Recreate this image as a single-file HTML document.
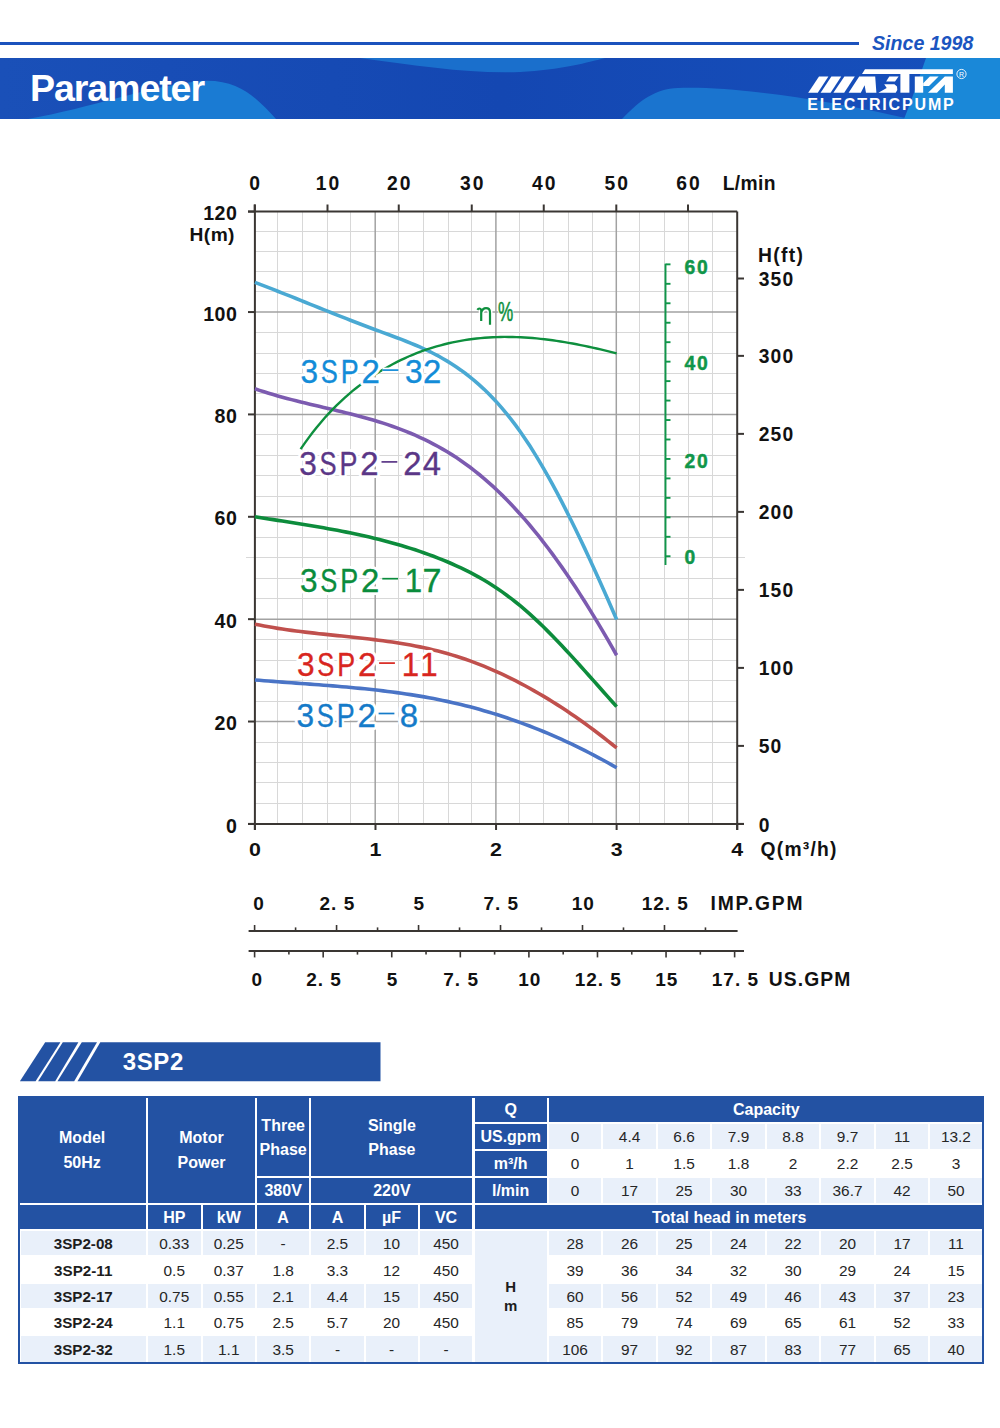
<!DOCTYPE html>
<html><head><meta charset="utf-8"><title>Parameter</title>
<style>
html,body{margin:0;padding:0;background:#fff;}
body{width:1000px;height:1428px;position:relative;overflow:hidden;font-family:'Liberation Sans', sans-serif;}
</style></head><body>

<div style="position:absolute;left:0;top:41.5px;width:859px;height:3.2px;background:#1b52bd"></div>
<div style="position:absolute;left:872px;top:31px;font:italic bold 19.6px/24px 'Liberation Sans', sans-serif;color:#1b55c0;white-space:nowrap">Since 1998</div>
<svg style="position:absolute;left:0;top:58px" width="1000" height="61" viewBox="0 58 1000 61">
 <defs>
  <linearGradient id="bg" x1="0" y1="0" x2="1" y2="0">
   <stop offset="0" stop-color="#1a50b8"/><stop offset="0.5" stop-color="#1447b2"/><stop offset="1" stop-color="#1650bc"/>
  </linearGradient>
 </defs>
 <rect x="0" y="58" width="1000" height="61" fill="url(#bg)"/>
 <path d="M360 58 C420 66 470 74 520 72 C560 70 590 62 605 58 Z" fill="#1a6fcc"/>
 <path d="M28 119 C90 108 150 86 200 81 C240 78 258 100 276 119 Z" fill="#1a7bd3"/>
 <path d="M622 119 C640 100 655 89 678 88 C730 86 820 98 910 119 Z" fill="#1a74cf"/>
 <path d="M926 58 L1000 58 L1000 119 L904 119 C912 100 918 80 926 58 Z" fill="#1a88d8"/>
</svg>
<div style="position:absolute;left:30px;top:63.8px;font:bold 37.6px/48px 'Liberation Sans', sans-serif;letter-spacing:-1.1px;color:#fff;white-space:nowrap">Parameter</div>

<svg style="position:absolute;left:0;top:0" width="1000" height="130" viewBox="0 0 1000 130">
 <g fill="#fff">
  <polygon points="808.2,92.7 817.8,92.7 828.4,76.5 819,76.5"/>
  <polygon points="820.6,92.7 830.6,92.7 841.2,76.5 831.4,76.5"/>
  <polygon points="833.4,92.7 844.2,92.7 854.8,76.5 844.4,76.5"/>
  <polygon points="848.6,92.7 860.8,92.7 864.6,85.2 866,92.7 876.4,92.7 875.2,76.5 859.2,76.5"/>
  <polygon points="865,69.3 952.9,69.3 952.9,73.9 862,73.9"/>
  <polygon points="889.3,76.5 898.6,76.5 895,81.6 886.1,81.6"/>
  <polygon points="884.2,84.2 894.4,84.2 897,86.4 897.3,89.9 895.7,92.7 878.4,92.7 886.7,88"/>
  <polygon points="900.4,73.9 909.4,73.9 909.4,92.7 900.4,92.7"/>
  <polygon points="914.8,76.5 923.2,76.5 923.2,92.7 914.8,92.7"/>
  <polygon points="929.8,76.5 938.6,76.5 929,86 923.2,86 923.2,83.2"/>
  <polygon points="928,92.7 937,92.7 944.8,84.5 944.8,92.7 952.9,92.7 952.9,76.5 944.8,76.5"/>
 </g>
 <circle cx="961.5" cy="74" r="4.6" fill="none" stroke="#fff" stroke-width="0.9"/>
 <text x="961.5" y="76.6" font-family="Liberation Sans" font-size="7" fill="#fff" text-anchor="middle">R</text>
 <text x="807.2" y="109.6" font-family="Liberation Sans" font-weight="bold" font-size="16" letter-spacing="1.85" fill="#fff">ELECTRICPUMP</text>
</svg>
<svg style="position:absolute;left:0;top:0" width="1000" height="1030" viewBox="0 0 1000 1030">
<g shape-rendering="crispEdges">
<line x1="277.5" y1="211.6" x2="277.5" y2="823.9" stroke="#d8d8d8" stroke-width="1"/>
<line x1="302.5" y1="211.6" x2="302.5" y2="823.9" stroke="#d8d8d8" stroke-width="1"/>
<line x1="327.5" y1="211.6" x2="327.5" y2="823.9" stroke="#d8d8d8" stroke-width="1"/>
<line x1="350.5" y1="211.6" x2="350.5" y2="823.9" stroke="#d8d8d8" stroke-width="1"/>
<line x1="398.75" y1="211.6" x2="398.75" y2="823.9" stroke="#d8d8d8" stroke-width="1"/>
<line x1="423.25" y1="211.6" x2="423.25" y2="823.9" stroke="#d8d8d8" stroke-width="1"/>
<line x1="448.25" y1="211.6" x2="448.25" y2="823.9" stroke="#d8d8d8" stroke-width="1"/>
<line x1="471.75" y1="211.6" x2="471.75" y2="823.9" stroke="#d8d8d8" stroke-width="1"/>
<line x1="519.5" y1="211.6" x2="519.5" y2="823.9" stroke="#d8d8d8" stroke-width="1"/>
<line x1="543.75" y1="211.6" x2="543.75" y2="823.9" stroke="#d8d8d8" stroke-width="1"/>
<line x1="568.25" y1="211.6" x2="568.25" y2="823.9" stroke="#d8d8d8" stroke-width="1"/>
<line x1="592" y1="211.6" x2="592" y2="823.9" stroke="#d8d8d8" stroke-width="1"/>
<line x1="639.5" y1="211.6" x2="639.5" y2="823.9" stroke="#d8d8d8" stroke-width="1"/>
<line x1="664.25" y1="211.6" x2="664.25" y2="823.9" stroke="#d8d8d8" stroke-width="1"/>
<line x1="688" y1="211.6" x2="688" y2="823.9" stroke="#d8d8d8" stroke-width="1"/>
<line x1="712.5" y1="211.6" x2="712.5" y2="823.9" stroke="#d8d8d8" stroke-width="1"/>
<line x1="254.9" y1="803.43" x2="737.2" y2="803.43" stroke="#d8d8d8" stroke-width="1"/>
<line x1="254.9" y1="782.95" x2="737.2" y2="782.95" stroke="#d8d8d8" stroke-width="1"/>
<line x1="254.9" y1="762.48" x2="737.2" y2="762.48" stroke="#d8d8d8" stroke-width="1"/>
<line x1="254.9" y1="742" x2="737.2" y2="742" stroke="#d8d8d8" stroke-width="1"/>
<line x1="254.9" y1="701.06" x2="737.2" y2="701.06" stroke="#d8d8d8" stroke-width="1"/>
<line x1="254.9" y1="680.58" x2="737.2" y2="680.58" stroke="#d8d8d8" stroke-width="1"/>
<line x1="254.9" y1="660.11" x2="737.2" y2="660.11" stroke="#d8d8d8" stroke-width="1"/>
<line x1="254.9" y1="639.63" x2="737.2" y2="639.63" stroke="#d8d8d8" stroke-width="1"/>
<line x1="254.9" y1="598.69" x2="737.2" y2="598.69" stroke="#d8d8d8" stroke-width="1"/>
<line x1="254.9" y1="578.21" x2="737.2" y2="578.21" stroke="#d8d8d8" stroke-width="1"/>
<line x1="246.3" y1="557.74" x2="745" y2="557.74" stroke="#d8d8d8" stroke-width="1"/>
<line x1="254.9" y1="537.26" x2="737.2" y2="537.26" stroke="#d8d8d8" stroke-width="1"/>
<line x1="254.9" y1="496.32" x2="737.2" y2="496.32" stroke="#d8d8d8" stroke-width="1"/>
<line x1="254.9" y1="475.84" x2="737.2" y2="475.84" stroke="#d8d8d8" stroke-width="1"/>
<line x1="254.9" y1="455.37" x2="737.2" y2="455.37" stroke="#d8d8d8" stroke-width="1"/>
<line x1="254.9" y1="434.89" x2="737.2" y2="434.89" stroke="#d8d8d8" stroke-width="1"/>
<line x1="254.9" y1="393.95" x2="737.2" y2="393.95" stroke="#d8d8d8" stroke-width="1"/>
<line x1="254.9" y1="373.47" x2="737.2" y2="373.47" stroke="#d8d8d8" stroke-width="1"/>
<line x1="254.9" y1="353" x2="737.2" y2="353" stroke="#d8d8d8" stroke-width="1"/>
<line x1="254.9" y1="332.52" x2="737.2" y2="332.52" stroke="#d8d8d8" stroke-width="1"/>
<line x1="254.9" y1="291.96" x2="737.2" y2="291.96" stroke="#d8d8d8" stroke-width="1"/>
<line x1="254.9" y1="271.87" x2="737.2" y2="271.87" stroke="#d8d8d8" stroke-width="1"/>
<line x1="254.9" y1="251.78" x2="737.2" y2="251.78" stroke="#d8d8d8" stroke-width="1"/>
<line x1="254.9" y1="231.69" x2="737.2" y2="231.69" stroke="#d8d8d8" stroke-width="1"/>
</g>
<line x1="375.2" y1="211.6" x2="375.2" y2="823.9" stroke="#a2a2a2" stroke-width="1.5"/>
<line x1="495.9" y1="211.6" x2="495.9" y2="823.9" stroke="#a2a2a2" stroke-width="1.5"/>
<line x1="616.3" y1="211.6" x2="616.3" y2="823.9" stroke="#a2a2a2" stroke-width="1.5"/>
<line x1="254.9" y1="721.53" x2="737.2" y2="721.53" stroke="#a2a2a2" stroke-width="1.5"/>
<line x1="254.9" y1="619.16" x2="737.2" y2="619.16" stroke="#a2a2a2" stroke-width="1.5"/>
<line x1="254.9" y1="516.79" x2="737.2" y2="516.79" stroke="#a2a2a2" stroke-width="1.5"/>
<line x1="254.9" y1="414.42" x2="737.2" y2="414.42" stroke="#a2a2a2" stroke-width="1.5"/>
<line x1="254.9" y1="312.05" x2="737.2" y2="312.05" stroke="#a2a2a2" stroke-width="1.5"/>
<g stroke="#3a3633" stroke-width="2" fill="none">
<line x1="254.9" y1="204.5" x2="254.9" y2="830"/>
<line x1="737.2" y1="211.6" x2="737.2" y2="830"/>
<line x1="248" y1="211.6" x2="737.2" y2="211.6"/>
<line x1="248" y1="823.9" x2="744" y2="823.9"/>
<line x1="248" y1="823.9" x2="254.9" y2="823.9"/>
<line x1="248" y1="721.53" x2="254.9" y2="721.53"/>
<line x1="248" y1="619.16" x2="254.9" y2="619.16"/>
<line x1="248" y1="516.79" x2="254.9" y2="516.79"/>
<line x1="248" y1="414.42" x2="254.9" y2="414.42"/>
<line x1="248" y1="312.05" x2="254.9" y2="312.05"/>
<line x1="248" y1="211.6" x2="254.9" y2="211.6"/>
<line x1="254.9" y1="823.9" x2="254.9" y2="830"/>
<line x1="375.48" y1="823.9" x2="375.48" y2="830"/>
<line x1="496.05" y1="823.9" x2="496.05" y2="830"/>
<line x1="616.62" y1="823.9" x2="616.62" y2="830"/>
<line x1="737.2" y1="823.9" x2="737.2" y2="830"/>
<line x1="254.7" y1="204.5" x2="254.7" y2="211.6"/>
<line x1="327.5" y1="204.5" x2="327.5" y2="211.6"/>
<line x1="398.75" y1="204.5" x2="398.75" y2="211.6"/>
<line x1="471.75" y1="204.5" x2="471.75" y2="211.6"/>
<line x1="543.75" y1="204.5" x2="543.75" y2="211.6"/>
<line x1="616.3" y1="204.5" x2="616.3" y2="211.6"/>
<line x1="688" y1="204.5" x2="688" y2="211.6"/>
<line x1="737.2" y1="823.9" x2="744" y2="823.9"/>
<line x1="737.2" y1="745.89" x2="744" y2="745.89"/>
<line x1="737.2" y1="667.89" x2="744" y2="667.89"/>
<line x1="737.2" y1="589.88" x2="744" y2="589.88"/>
<line x1="737.2" y1="511.88" x2="744" y2="511.88"/>
<line x1="737.2" y1="433.87" x2="744" y2="433.87"/>
<line x1="737.2" y1="355.86" x2="744" y2="355.86"/>
<line x1="737.2" y1="278.5" x2="744" y2="278.5"/>
</g>
<text x="237.4" y="832.5" font-family="Liberation Sans" font-weight="bold" fill="#111" font-size="19.6" letter-spacing="0.5" text-anchor="end">0</text>
<text x="237.4" y="730.13" font-family="Liberation Sans" font-weight="bold" fill="#111" font-size="19.6" letter-spacing="0.5" text-anchor="end">20</text>
<text x="237.4" y="627.76" font-family="Liberation Sans" font-weight="bold" fill="#111" font-size="19.6" letter-spacing="0.5" text-anchor="end">40</text>
<text x="237.4" y="525.39" font-family="Liberation Sans" font-weight="bold" fill="#111" font-size="19.6" letter-spacing="0.5" text-anchor="end">60</text>
<text x="237.4" y="423.02" font-family="Liberation Sans" font-weight="bold" fill="#111" font-size="19.6" letter-spacing="0.5" text-anchor="end">80</text>
<text x="237.4" y="320.65" font-family="Liberation Sans" font-weight="bold" fill="#111" font-size="19.6" letter-spacing="0.5" text-anchor="end">100</text>
<text x="237.4" y="220.2" font-family="Liberation Sans" font-weight="bold" fill="#111" font-size="19.6" letter-spacing="0.5" text-anchor="end">120</text>
<text x="189.6" y="240.6" font-family="Liberation Sans" font-weight="bold" fill="#111" font-size="19.2" letter-spacing="0.4">H(m)</text>
<text x="255.7" y="190.2" font-family="Liberation Sans" font-weight="bold" fill="#111" font-size="19.3" letter-spacing="2" text-anchor="middle">0</text>
<text x="328.5" y="190.2" font-family="Liberation Sans" font-weight="bold" fill="#111" font-size="19.3" letter-spacing="2" text-anchor="middle">10</text>
<text x="399.75" y="190.2" font-family="Liberation Sans" font-weight="bold" fill="#111" font-size="19.3" letter-spacing="2" text-anchor="middle">20</text>
<text x="472.75" y="190.2" font-family="Liberation Sans" font-weight="bold" fill="#111" font-size="19.3" letter-spacing="2" text-anchor="middle">30</text>
<text x="544.75" y="190.2" font-family="Liberation Sans" font-weight="bold" fill="#111" font-size="19.3" letter-spacing="2" text-anchor="middle">40</text>
<text x="617.3" y="190.2" font-family="Liberation Sans" font-weight="bold" fill="#111" font-size="19.3" letter-spacing="2" text-anchor="middle">50</text>
<text x="689" y="190.2" font-family="Liberation Sans" font-weight="bold" fill="#111" font-size="19.3" letter-spacing="2" text-anchor="middle">60</text>
<text x="722.8" y="190.2" font-family="Liberation Sans" font-weight="bold" fill="#111" font-size="19.3" letter-spacing="0.3">L/min</text>
<text transform="translate(254.9,856.1) scale(1.15,1)" font-family="Liberation Sans" font-weight="bold" fill="#111" font-size="18.6" text-anchor="middle">0</text>
<text transform="translate(375.48,856.1) scale(1.15,1)" font-family="Liberation Sans" font-weight="bold" fill="#111" font-size="18.6" text-anchor="middle">1</text>
<text transform="translate(496.05,856.1) scale(1.15,1)" font-family="Liberation Sans" font-weight="bold" fill="#111" font-size="18.6" text-anchor="middle">2</text>
<text transform="translate(616.62,856.1) scale(1.15,1)" font-family="Liberation Sans" font-weight="bold" fill="#111" font-size="18.6" text-anchor="middle">3</text>
<text transform="translate(737.2,856.1) scale(1.15,1)" font-family="Liberation Sans" font-weight="bold" fill="#111" font-size="18.6" text-anchor="middle">4</text>
<text x="760.6" y="856.1" font-family="Liberation Sans" font-weight="bold" fill="#111" font-size="19.3" letter-spacing="1.2">Q(m³/h)</text>
<text x="758.8" y="831.5" font-family="Liberation Sans" font-weight="bold" fill="#111" font-size="19.3" letter-spacing="1.1">0</text>
<text x="758.8" y="753.49" font-family="Liberation Sans" font-weight="bold" fill="#111" font-size="19.3" letter-spacing="1.1">50</text>
<text x="758.8" y="675.49" font-family="Liberation Sans" font-weight="bold" fill="#111" font-size="19.3" letter-spacing="1.1">100</text>
<text x="758.8" y="597.48" font-family="Liberation Sans" font-weight="bold" fill="#111" font-size="19.3" letter-spacing="1.1">150</text>
<text x="758.8" y="519.48" font-family="Liberation Sans" font-weight="bold" fill="#111" font-size="19.3" letter-spacing="1.1">200</text>
<text x="758.8" y="441.47" font-family="Liberation Sans" font-weight="bold" fill="#111" font-size="19.3" letter-spacing="1.1">250</text>
<text x="758.8" y="363.46" font-family="Liberation Sans" font-weight="bold" fill="#111" font-size="19.3" letter-spacing="1.1">300</text>
<text x="758.8" y="286.1" font-family="Liberation Sans" font-weight="bold" fill="#111" font-size="19.3" letter-spacing="1.1">350</text>
<text x="758" y="261.6" font-family="Liberation Sans" font-weight="bold" fill="#111" font-size="19.3" letter-spacing="1.3">H(ft)</text>
<g stroke="#10964a" stroke-width="1.9">
<line x1="665.5" y1="263.8" x2="665.5" y2="565"/>
<line x1="665.5" y1="556.25" x2="670.5" y2="556.25"/>
<line x1="665.5" y1="536.79" x2="670.5" y2="536.79"/>
<line x1="665.5" y1="517.33" x2="670.5" y2="517.33"/>
<line x1="665.5" y1="497.87" x2="670.5" y2="497.87"/>
<line x1="665.5" y1="478.41" x2="670.5" y2="478.41"/>
<line x1="665.5" y1="458.95" x2="670.5" y2="458.95"/>
<line x1="665.5" y1="439.49" x2="670.5" y2="439.49"/>
<line x1="665.5" y1="420.03" x2="670.5" y2="420.03"/>
<line x1="665.5" y1="400.57" x2="670.5" y2="400.57"/>
<line x1="665.5" y1="381.11" x2="670.5" y2="381.11"/>
<line x1="665.5" y1="361.65" x2="670.5" y2="361.65"/>
<line x1="665.5" y1="342.19" x2="670.5" y2="342.19"/>
<line x1="665.5" y1="322.73" x2="670.5" y2="322.73"/>
<line x1="665.5" y1="303.27" x2="670.5" y2="303.27"/>
<line x1="665.5" y1="283.81" x2="670.5" y2="283.81"/>
<line x1="665.5" y1="264.35" x2="670.5" y2="264.35"/>
</g>
<text x="684.6" y="563.5" font-family="Liberation Sans" font-weight="bold" fill="#10964a" stroke="#10964a" stroke-width="0.45" font-size="19.3" letter-spacing="1.7">0</text>
<text x="684.6" y="467.55" font-family="Liberation Sans" font-weight="bold" fill="#10964a" stroke="#10964a" stroke-width="0.45" font-size="19.3" letter-spacing="1.7">20</text>
<text x="684.6" y="370.15" font-family="Liberation Sans" font-weight="bold" fill="#10964a" stroke="#10964a" stroke-width="0.45" font-size="19.3" letter-spacing="1.7">40</text>
<text x="684.6" y="274.25" font-family="Liberation Sans" font-weight="bold" fill="#10964a" stroke="#10964a" stroke-width="0.45" font-size="19.3" letter-spacing="1.7">60</text>
<path d="M254.90,679.92 L259.48,680.30 L264.06,680.68 L268.64,681.04 L273.22,681.40 L277.79,681.75 L282.37,682.10 L286.95,682.44 L291.53,682.78 L296.11,683.12 L300.69,683.46 L305.27,683.79 L309.85,684.13 L314.42,684.48 L319.00,684.83 L323.58,685.18 L328.16,685.54 L332.74,685.91 L337.32,686.29 L341.90,686.67 L346.48,687.08 L351.05,687.49 L355.63,687.92 L360.21,688.36 L364.79,688.82 L369.37,689.30 L373.95,689.80 L378.53,690.32 L383.11,690.86 L387.69,691.42 L392.26,692.01 L396.84,692.62 L401.42,693.26 L406.00,693.92 L410.58,694.62 L415.16,695.35 L419.74,696.10 L424.32,696.89 L428.89,697.72 L433.47,698.58 L438.05,699.48 L442.63,700.41 L447.21,701.38 L451.79,702.40 L456.37,703.45 L460.95,704.55 L465.52,705.68 L470.10,706.86 L474.68,708.08 L479.26,709.34 L483.84,710.65 L488.42,711.99 L493.00,713.38 L497.58,714.82 L502.16,716.29 L506.73,717.81 L511.31,719.37 L515.89,720.98 L520.47,722.62 L525.05,724.32 L529.63,726.05 L534.21,727.84 L538.79,729.66 L543.36,731.53 L547.94,733.45 L552.52,735.41 L557.10,737.41 L561.68,739.46 L566.26,741.56 L570.84,743.70 L575.42,745.89 L579.99,748.13 L584.57,750.41 L589.15,752.74 L593.73,755.12 L598.31,757.54 L602.89,760.01 L607.47,762.52 L612.05,765.09 L616.62,767.70" fill="none" stroke="#4a74c6" stroke-width="3.6"/>
<path d="M254.90,624.18 L259.48,625.11 L264.06,625.98 L268.64,626.81 L273.22,627.60 L277.79,628.35 L282.37,629.05 L286.95,629.72 L291.53,630.36 L296.11,630.97 L300.69,631.55 L305.27,632.11 L309.85,632.65 L314.42,633.16 L319.00,633.67 L323.58,634.16 L328.16,634.64 L332.74,635.12 L337.32,635.59 L341.90,636.07 L346.48,636.54 L351.05,637.02 L355.63,637.51 L360.21,638.01 L364.79,638.52 L369.37,639.06 L373.95,639.61 L378.53,640.18 L383.11,640.78 L387.69,641.41 L392.26,642.07 L396.84,642.76 L401.42,643.50 L406.00,644.27 L410.58,645.09 L415.16,645.95 L419.74,646.86 L424.32,647.82 L428.89,648.84 L433.47,649.92 L438.05,651.06 L442.63,652.26 L447.21,653.53 L451.79,654.86 L456.37,656.27 L460.95,657.75 L465.52,659.30 L470.10,660.92 L474.68,662.61 L479.26,664.38 L483.84,666.20 L488.42,668.10 L493.00,670.07 L497.58,672.11 L502.16,674.21 L506.73,676.38 L511.31,678.62 L515.89,680.92 L520.47,683.30 L525.05,685.73 L529.63,688.24 L534.21,690.81 L538.79,693.44 L543.36,696.14 L547.94,698.91 L552.52,701.74 L557.10,704.63 L561.68,707.59 L566.26,710.61 L570.84,713.69 L575.42,716.84 L579.99,720.05 L584.57,723.32 L589.15,726.65 L593.73,730.05 L598.31,733.50 L602.89,737.02 L607.47,740.59 L612.05,744.23 L616.62,747.93" fill="none" stroke="#c0504d" stroke-width="3.6"/>
<path d="M254.90,516.75 L259.48,517.48 L264.06,518.21 L268.64,518.93 L273.22,519.65 L277.79,520.37 L282.37,521.09 L286.95,521.81 L291.53,522.53 L296.11,523.26 L300.69,523.99 L305.27,524.74 L309.85,525.50 L314.42,526.26 L319.00,527.05 L323.58,527.85 L328.16,528.66 L332.74,529.50 L337.32,530.35 L341.90,531.23 L346.48,532.14 L351.05,533.07 L355.63,534.03 L360.21,535.02 L364.79,536.04 L369.37,537.09 L373.95,538.18 L378.53,539.30 L383.11,540.47 L387.69,541.67 L392.26,542.91 L396.84,544.20 L401.42,545.54 L406.00,546.92 L410.58,548.35 L415.16,549.83 L419.74,551.37 L424.32,552.95 L428.89,554.60 L433.47,556.30 L438.05,558.06 L442.63,559.88 L447.21,561.77 L451.79,563.73 L456.37,565.77 L460.95,567.89 L465.52,570.11 L470.10,572.42 L474.68,574.85 L479.26,577.38 L483.84,580.03 L488.42,582.80 L493.00,585.69 L497.58,588.72 L502.16,591.88 L506.73,595.18 L511.31,598.62 L515.89,602.21 L520.47,605.95 L525.05,609.85 L529.63,613.89 L534.21,618.07 L538.79,622.38 L543.36,626.81 L547.94,631.35 L552.52,635.99 L557.10,640.72 L561.68,645.54 L566.26,650.44 L570.84,655.40 L575.42,660.41 L579.99,665.48 L584.57,670.58 L589.15,675.72 L593.73,680.88 L598.31,686.05 L602.89,691.22 L607.47,696.39 L612.05,701.54 L616.62,706.67" fill="none" stroke="#0d8c3c" stroke-width="3.6"/>
<path d="M254.90,388.80 L259.48,390.34 L264.06,391.82 L268.64,393.24 L273.22,394.60 L277.79,395.92 L282.37,397.19 L286.95,398.43 L291.53,399.62 L296.11,400.79 L300.69,401.93 L305.27,403.05 L309.85,404.15 L314.42,405.24 L319.00,406.32 L323.58,407.39 L328.16,408.47 L332.74,409.55 L337.32,410.65 L341.90,411.75 L346.48,412.88 L351.05,414.03 L355.63,415.21 L360.21,416.43 L364.79,417.68 L369.37,418.97 L373.95,420.31 L378.53,421.70 L383.11,423.15 L387.69,424.65 L392.26,426.22 L396.84,427.87 L401.42,429.58 L406.00,431.38 L410.58,433.25 L415.16,435.22 L419.74,437.28 L424.32,439.43 L428.89,441.69 L433.47,444.05 L438.05,446.52 L442.63,449.11 L447.21,451.82 L451.79,454.65 L456.37,457.61 L460.95,460.71 L465.52,463.94 L470.10,467.31 L474.68,470.84 L479.26,474.51 L483.84,478.33 L488.42,482.31 L493.00,486.44 L497.58,490.73 L502.16,495.16 L506.73,499.75 L511.31,504.50 L515.89,509.40 L520.47,514.45 L525.05,519.66 L529.63,525.02 L534.21,530.53 L538.79,536.20 L543.36,542.03 L547.94,548.01 L552.52,554.15 L557.10,560.44 L561.68,566.89 L566.26,573.48 L570.84,580.22 L575.42,587.11 L579.99,594.14 L584.57,601.31 L589.15,608.62 L593.73,616.07 L598.31,623.64 L602.89,631.35 L607.47,639.19 L612.05,647.16 L616.62,655.25" fill="none" stroke="#7c5bb0" stroke-width="3.6"/>
<path d="M254.90,282.32 L259.48,284.08 L264.06,285.84 L268.64,287.63 L273.22,289.42 L277.79,291.23 L282.37,293.05 L286.95,294.87 L291.53,296.70 L296.11,298.54 L300.69,300.38 L305.27,302.22 L309.85,304.07 L314.42,305.91 L319.00,307.76 L323.58,309.59 L328.16,311.43 L332.74,313.26 L337.32,315.08 L341.90,316.89 L346.48,318.70 L351.05,320.49 L355.63,322.27 L360.21,324.03 L364.79,325.78 L369.37,327.51 L373.95,329.22 L378.53,330.92 L383.11,332.60 L387.69,334.28 L392.26,335.97 L396.84,337.69 L401.42,339.43 L406.00,341.23 L410.58,343.07 L415.16,344.98 L419.74,346.97 L424.32,349.05 L428.89,351.22 L433.47,353.51 L438.05,355.91 L442.63,358.45 L447.21,361.14 L451.79,363.97 L456.37,366.98 L460.95,370.16 L465.52,373.52 L470.10,377.09 L474.68,380.86 L479.26,384.84 L483.84,389.05 L488.42,393.50 L493.00,398.19 L497.58,403.14 L502.16,408.34 L506.73,413.82 L511.31,419.59 L515.89,425.64 L520.47,432.00 L525.05,438.66 L529.63,445.61 L534.21,452.85 L538.79,460.36 L543.36,468.13 L547.94,476.16 L552.52,484.43 L557.10,492.92 L561.68,501.64 L566.26,510.57 L570.84,519.69 L575.42,529.00 L579.99,538.49 L584.57,548.14 L589.15,557.95 L593.73,567.91 L598.31,578.00 L602.89,588.21 L607.47,598.53 L612.05,608.96 L616.62,619.47" fill="none" stroke="#4aa9d3" stroke-width="3.6"/>
<path d="M300.60,449.10 L304.60,443.36 L308.60,437.86 L312.60,432.58 L316.60,427.54 L320.60,422.70 L324.60,418.08 L328.60,413.66 L332.60,409.43 L336.60,405.39 L340.60,401.53 L344.60,397.84 L348.60,394.31 L352.60,390.94 L356.60,387.72 L360.60,384.64 L364.60,381.69 L368.60,378.87 L372.60,376.17 L376.60,373.58 L380.60,371.10 L384.60,368.72 L388.60,366.44 L392.60,364.26 L396.60,362.18 L400.60,360.20 L404.60,358.31 L408.60,356.52 L412.60,354.81 L416.60,353.20 L420.60,351.67 L424.60,350.23 L428.60,348.87 L432.60,347.60 L436.60,346.40 L440.60,345.29 L444.60,344.24 L448.60,343.28 L452.60,342.39 L456.60,341.57 L460.60,340.82 L464.60,340.14 L468.60,339.53 L472.60,338.99 L476.60,338.51 L480.60,338.10 L484.60,337.75 L488.60,337.47 L492.60,337.24 L496.60,337.08 L500.60,336.97 L504.60,336.92 L508.60,336.93 L512.60,336.99 L516.60,337.10 L520.60,337.26 L524.60,337.48 L528.60,337.74 L532.60,338.06 L536.60,338.42 L540.60,338.82 L544.60,339.27 L548.60,339.76 L552.60,340.29 L556.60,340.87 L560.60,341.48 L564.60,342.13 L568.60,342.81 L572.60,343.53 L576.60,344.29 L580.60,345.08 L584.60,345.89 L588.60,346.74 L592.60,347.62 L596.60,348.52 L600.60,349.45 L604.60,350.41 L608.60,351.38 L612.60,352.38 L616.60,353.40" fill="none" stroke="#0e8f3e" stroke-width="2.4"/>
<g font-family="Liberation Sans" font-size="32.6" fill="#fff" stroke="#fff" stroke-width="6" stroke-linejoin="round"><text transform="translate(300.40,383.10) scale(0.970,1)" x="0" y="0">3</text><text transform="translate(320.69,383.10) scale(0.783,1)" x="0" y="0">S</text><text transform="translate(340.65,383.10) scale(0.824,1)" x="0" y="0">P</text><text transform="translate(361.44,383.10) scale(1.010,1)" x="0" y="0">2</text><text transform="translate(404.90,383.10) scale(0.970,1)" x="0" y="0">3</text><text transform="translate(422.94,383.10) scale(1.010,1)" x="0" y="0">2</text><line x1="382.60" y1="370.10" x2="398.40" y2="370.10" stroke="#fff" stroke-width="5"/></g><g font-family="Liberation Sans" font-size="32.6" fill="#138cd8" stroke="#138cd8" stroke-width="0.35"><text transform="translate(300.40,383.10) scale(0.970,1)" x="0" y="0">3</text><text transform="translate(320.69,383.10) scale(0.783,1)" x="0" y="0">S</text><text transform="translate(340.65,383.10) scale(0.824,1)" x="0" y="0">P</text><text transform="translate(361.44,383.10) scale(1.010,1)" x="0" y="0">2</text><text transform="translate(404.90,383.10) scale(0.970,1)" x="0" y="0">3</text><text transform="translate(422.94,383.10) scale(1.010,1)" x="0" y="0">2</text><line x1="382.60" y1="370.10" x2="398.40" y2="370.10" stroke="#138cd8" stroke-width="1.7"/></g>
<g font-family="Liberation Sans" font-size="32.6" fill="#fff" stroke="#fff" stroke-width="6" stroke-linejoin="round"><text transform="translate(299.30,474.90) scale(0.970,1)" x="0" y="0">3</text><text transform="translate(319.59,474.90) scale(0.783,1)" x="0" y="0">S</text><text transform="translate(339.55,474.90) scale(0.824,1)" x="0" y="0">P</text><text transform="translate(360.34,474.90) scale(1.010,1)" x="0" y="0">2</text><text transform="translate(403.34,474.90) scale(1.010,1)" x="0" y="0">2</text><text transform="translate(422.75,474.90) scale(1.004,1)" x="0" y="0">4</text><line x1="381.50" y1="461.90" x2="397.30" y2="461.90" stroke="#fff" stroke-width="5"/></g><g font-family="Liberation Sans" font-size="32.6" fill="#5b3787" stroke="#5b3787" stroke-width="0.35"><text transform="translate(299.30,474.90) scale(0.970,1)" x="0" y="0">3</text><text transform="translate(319.59,474.90) scale(0.783,1)" x="0" y="0">S</text><text transform="translate(339.55,474.90) scale(0.824,1)" x="0" y="0">P</text><text transform="translate(360.34,474.90) scale(1.010,1)" x="0" y="0">2</text><text transform="translate(403.34,474.90) scale(1.010,1)" x="0" y="0">2</text><text transform="translate(422.75,474.90) scale(1.004,1)" x="0" y="0">4</text><line x1="381.50" y1="461.90" x2="397.30" y2="461.90" stroke="#5b3787" stroke-width="1.7"/></g>
<g font-family="Liberation Sans" font-size="32.6" fill="#fff" stroke="#fff" stroke-width="6" stroke-linejoin="round"><text transform="translate(300.05,591.70) scale(0.970,1)" x="0" y="0">3</text><text transform="translate(320.34,591.70) scale(0.783,1)" x="0" y="0">S</text><text transform="translate(340.30,591.70) scale(0.824,1)" x="0" y="0">P</text><text transform="translate(361.09,591.70) scale(1.010,1)" x="0" y="0">2</text><text transform="translate(404.86,591.70) scale(0.960,1)" x="0" y="0">1</text><text transform="translate(422.50,591.70) scale(1.046,1)" x="0" y="0">7</text><line x1="382.25" y1="578.70" x2="398.05" y2="578.70" stroke="#fff" stroke-width="5"/></g><g font-family="Liberation Sans" font-size="32.6" fill="#0a8c3c" stroke="#0a8c3c" stroke-width="0.35"><text transform="translate(300.05,591.70) scale(0.970,1)" x="0" y="0">3</text><text transform="translate(320.34,591.70) scale(0.783,1)" x="0" y="0">S</text><text transform="translate(340.30,591.70) scale(0.824,1)" x="0" y="0">P</text><text transform="translate(361.09,591.70) scale(1.010,1)" x="0" y="0">2</text><text transform="translate(404.86,591.70) scale(0.960,1)" x="0" y="0">1</text><text transform="translate(422.50,591.70) scale(1.046,1)" x="0" y="0">7</text><line x1="382.25" y1="578.70" x2="398.05" y2="578.70" stroke="#0a8c3c" stroke-width="1.7"/></g>
<g font-family="Liberation Sans" font-size="32.6" fill="#fff" stroke="#fff" stroke-width="6" stroke-linejoin="round"><text transform="translate(296.90,676.10) scale(0.970,1)" x="0" y="0">3</text><text transform="translate(317.19,676.10) scale(0.783,1)" x="0" y="0">S</text><text transform="translate(337.15,676.10) scale(0.824,1)" x="0" y="0">P</text><text transform="translate(357.94,676.10) scale(1.010,1)" x="0" y="0">2</text><text transform="translate(401.71,676.10) scale(0.960,1)" x="0" y="0">1</text><text transform="translate(420.21,676.10) scale(0.960,1)" x="0" y="0">1</text><line x1="379.10" y1="663.10" x2="394.90" y2="663.10" stroke="#fff" stroke-width="5"/></g><g font-family="Liberation Sans" font-size="32.6" fill="#d8261f" stroke="#d8261f" stroke-width="0.35"><text transform="translate(296.90,676.10) scale(0.970,1)" x="0" y="0">3</text><text transform="translate(317.19,676.10) scale(0.783,1)" x="0" y="0">S</text><text transform="translate(337.15,676.10) scale(0.824,1)" x="0" y="0">P</text><text transform="translate(357.94,676.10) scale(1.010,1)" x="0" y="0">2</text><text transform="translate(401.71,676.10) scale(0.960,1)" x="0" y="0">1</text><text transform="translate(420.21,676.10) scale(0.960,1)" x="0" y="0">1</text><line x1="379.10" y1="663.10" x2="394.90" y2="663.10" stroke="#d8261f" stroke-width="1.7"/></g>
<g font-family="Liberation Sans" font-size="32.6" fill="#fff" stroke="#fff" stroke-width="6" stroke-linejoin="round"><text transform="translate(296.40,726.50) scale(0.970,1)" x="0" y="0">3</text><text transform="translate(316.69,726.50) scale(0.783,1)" x="0" y="0">S</text><text transform="translate(336.65,726.50) scale(0.824,1)" x="0" y="0">P</text><text transform="translate(357.44,726.50) scale(1.010,1)" x="0" y="0">2</text><text transform="translate(399.66,726.50) scale(1.013,1)" x="0" y="0">8</text><line x1="378.60" y1="713.50" x2="394.40" y2="713.50" stroke="#fff" stroke-width="5"/></g><g font-family="Liberation Sans" font-size="32.6" fill="#157bc9" stroke="#157bc9" stroke-width="0.35"><text transform="translate(296.40,726.50) scale(0.970,1)" x="0" y="0">3</text><text transform="translate(316.69,726.50) scale(0.783,1)" x="0" y="0">S</text><text transform="translate(336.65,726.50) scale(0.824,1)" x="0" y="0">P</text><text transform="translate(357.44,726.50) scale(1.010,1)" x="0" y="0">2</text><text transform="translate(399.66,726.50) scale(1.013,1)" x="0" y="0">8</text><line x1="378.60" y1="713.50" x2="394.40" y2="713.50" stroke="#157bc9" stroke-width="1.7"/></g>
<path d="M477.4,309.8 C478.4,308.2 480.3,307.9 481.2,309.8 L481.2,321 M481.2,312.6 C482.2,309.4 484,308.2 486,308.2 C488.6,308.2 490,309.6 490,312.4 L490,324.8" fill="none" stroke="#fff" stroke-width="5"/>
<path d="M477.4,309.8 C478.4,308.2 480.3,307.9 481.2,309.8 L481.2,321 M481.2,312.6 C482.2,309.4 484,308.2 486,308.2 C488.6,308.2 490,309.6 490,312.4 L490,324.8" fill="none" stroke="#0e8f3e" stroke-width="2.2"/>
<text transform="translate(497.9,321.4) scale(0.62,1)" font-family="Liberation Sans" font-size="27.6" fill="#0e8f3e" stroke="#fff" stroke-width="3" paint-order="stroke">%</text>
<text transform="translate(497.9,321.4) scale(0.62,1)" font-family="Liberation Sans" font-size="27.6" fill="none" stroke="#0e8f3e" stroke-width="0.6">%</text>
<g stroke="#3a3633" stroke-width="2">
<line x1="248.6" y1="931" x2="737.6" y2="931"/>
<line x1="254.60" y1="925" x2="254.60" y2="931" stroke-width="1.6"/>
<line x1="295.59" y1="927.4" x2="295.59" y2="931" stroke-width="1.6"/>
<line x1="336.57" y1="925" x2="336.57" y2="931" stroke-width="1.6"/>
<line x1="377.56" y1="927.4" x2="377.56" y2="931" stroke-width="1.6"/>
<line x1="418.55" y1="925" x2="418.55" y2="931" stroke-width="1.6"/>
<line x1="459.54" y1="927.4" x2="459.54" y2="931" stroke-width="1.6"/>
<line x1="500.52" y1="925" x2="500.52" y2="931" stroke-width="1.6"/>
<line x1="541.51" y1="927.4" x2="541.51" y2="931" stroke-width="1.6"/>
<line x1="582.50" y1="925" x2="582.50" y2="931" stroke-width="1.6"/>
<line x1="623.49" y1="927.4" x2="623.49" y2="931" stroke-width="1.6"/>
<line x1="664.48" y1="925" x2="664.48" y2="931" stroke-width="1.6"/>
<line x1="705.46" y1="927.4" x2="705.46" y2="931" stroke-width="1.6"/>
<line x1="248.6" y1="951" x2="744" y2="951"/>
<line x1="254.60" y1="951" x2="254.60" y2="957.4" stroke-width="1.6"/>
<line x1="288.89" y1="951" x2="288.89" y2="954.6" stroke-width="1.6"/>
<line x1="323.18" y1="951" x2="323.18" y2="957.4" stroke-width="1.6"/>
<line x1="357.46" y1="951" x2="357.46" y2="954.6" stroke-width="1.6"/>
<line x1="391.75" y1="951" x2="391.75" y2="957.4" stroke-width="1.6"/>
<line x1="426.04" y1="951" x2="426.04" y2="954.6" stroke-width="1.6"/>
<line x1="460.32" y1="951" x2="460.32" y2="957.4" stroke-width="1.6"/>
<line x1="494.61" y1="951" x2="494.61" y2="954.6" stroke-width="1.6"/>
<line x1="528.90" y1="951" x2="528.90" y2="957.4" stroke-width="1.6"/>
<line x1="563.19" y1="951" x2="563.19" y2="954.6" stroke-width="1.6"/>
<line x1="597.48" y1="951" x2="597.48" y2="957.4" stroke-width="1.6"/>
<line x1="631.76" y1="951" x2="631.76" y2="954.6" stroke-width="1.6"/>
<line x1="666.05" y1="951" x2="666.05" y2="957.4" stroke-width="1.6"/>
<line x1="700.34" y1="951" x2="700.34" y2="954.6" stroke-width="1.6"/>
<line x1="734.62" y1="951" x2="734.62" y2="957.4" stroke-width="1.6"/>
</g>
<text x="259.00" y="909.6" font-family="Liberation Sans" font-weight="bold" fill="#111" font-size="19" letter-spacing="1" text-anchor="middle" xml:space="preserve">0</text>
<text x="337.38" y="909.6" font-family="Liberation Sans" font-weight="bold" fill="#111" font-size="19" letter-spacing="1" text-anchor="middle" xml:space="preserve">2. 5</text>
<text x="419.35" y="909.6" font-family="Liberation Sans" font-weight="bold" fill="#111" font-size="19" letter-spacing="1" text-anchor="middle" xml:space="preserve">5</text>
<text x="501.32" y="909.6" font-family="Liberation Sans" font-weight="bold" fill="#111" font-size="19" letter-spacing="1" text-anchor="middle" xml:space="preserve">7. 5</text>
<text x="583.30" y="909.6" font-family="Liberation Sans" font-weight="bold" fill="#111" font-size="19" letter-spacing="1" text-anchor="middle" xml:space="preserve">10</text>
<text x="665.27" y="909.6" font-family="Liberation Sans" font-weight="bold" fill="#111" font-size="19" letter-spacing="1" text-anchor="middle" xml:space="preserve">12. 5</text>
<text x="710.6" y="909.6" font-family="Liberation Sans" font-weight="bold" fill="#111" font-size="19.3" letter-spacing="1.8">IMP.GPM</text>
<text x="257.20" y="986.3" font-family="Liberation Sans" font-weight="bold" fill="#111" font-size="19" letter-spacing="1" text-anchor="middle" xml:space="preserve">0</text>
<text x="323.98" y="986.3" font-family="Liberation Sans" font-weight="bold" fill="#111" font-size="19" letter-spacing="1" text-anchor="middle" xml:space="preserve">2. 5</text>
<text x="392.55" y="986.3" font-family="Liberation Sans" font-weight="bold" fill="#111" font-size="19" letter-spacing="1" text-anchor="middle" xml:space="preserve">5</text>
<text x="461.12" y="986.3" font-family="Liberation Sans" font-weight="bold" fill="#111" font-size="19" letter-spacing="1" text-anchor="middle" xml:space="preserve">7. 5</text>
<text x="529.70" y="986.3" font-family="Liberation Sans" font-weight="bold" fill="#111" font-size="19" letter-spacing="1" text-anchor="middle" xml:space="preserve">10</text>
<text x="598.27" y="986.3" font-family="Liberation Sans" font-weight="bold" fill="#111" font-size="19" letter-spacing="1" text-anchor="middle" xml:space="preserve">12. 5</text>
<text x="666.85" y="986.3" font-family="Liberation Sans" font-weight="bold" fill="#111" font-size="19" letter-spacing="1" text-anchor="middle" xml:space="preserve">15</text>
<text x="735.42" y="986.3" font-family="Liberation Sans" font-weight="bold" fill="#111" font-size="19" letter-spacing="1" text-anchor="middle" xml:space="preserve">17. 5</text>
<text x="768.8" y="986.3" font-family="Liberation Sans" font-weight="bold" fill="#111" font-size="19.3" letter-spacing="1.1">US.GPM</text>
</svg><svg style="position:absolute;left:0;top:1040px" width="400" height="45" viewBox="0 1040 400 45">
<g fill="#2352a3">
<polygon points="19.9,1081.2 35.6,1081.2 60.4,1042.2 45.2,1042.2"/>
<polygon points="38.1,1081.2 55.2,1081.2 78.4,1042.2 62.8,1042.2"/>
<polygon points="57.5,1081.2 74.2,1081.2 97,1042.2 81.8,1042.2"/>
<polygon points="77.5,1081.2 380.5,1081.2 380.5,1042.2 100.3,1042.2"/>
</g>
<text x="122.8" y="1069.8" font-family="Liberation Sans" font-weight="bold" font-size="24" letter-spacing="0.6" fill="#fff">3SP2</text>
</svg><div style="position:absolute;left:18.3px;top:1095.7px;width:965.70px;height:268.20px;background:#2352a3"></div>
<div style="position:absolute;left:20.30px;top:1097.70px;width:961.70px;height:264.20px;background:#fff"></div>
<div style="position:absolute;left:18.30px;top:1095.70px;width:127.70px;height:107.00px;background:#2352a3;display:flex;align-items:center;justify-content:center;text-align:center;color:#fff;font:bold 16px/24.8px 'Liberation Sans', sans-serif;box-sizing:border-box;padding-top:3px;">Model<br>50Hz</div>
<div style="position:absolute;left:148.00px;top:1095.70px;width:107.00px;height:107.00px;background:#2352a3;display:flex;align-items:center;justify-content:center;text-align:center;color:#fff;font:bold 16px/24.8px 'Liberation Sans', sans-serif;box-sizing:border-box;padding-top:3px;">Motor<br>Power</div>
<div style="position:absolute;left:257.00px;top:1095.70px;width:52.30px;height:79.90px;background:#2352a3;display:flex;align-items:center;justify-content:center;text-align:center;color:#fff;font:bold 16px/24.8px 'Liberation Sans', sans-serif;box-sizing:border-box;padding-top:3px;line-height:24px;padding-top:5.5px;">Three<br>Phase</div>
<div style="position:absolute;left:257.00px;top:1177.60px;width:52.30px;height:25.10px;background:#2352a3;display:flex;align-items:center;justify-content:center;text-align:center;color:#fff;font:bold 16px/24.8px 'Liberation Sans', sans-serif;box-sizing:border-box;padding-top:3px;">380V</div>
<div style="position:absolute;left:311.30px;top:1095.70px;width:161.20px;height:79.90px;background:#2352a3;display:flex;align-items:center;justify-content:center;text-align:center;color:#fff;font:bold 16px/24.8px 'Liberation Sans', sans-serif;box-sizing:border-box;padding-top:3px;line-height:24px;padding-top:5.5px;">Single<br>Phase</div>
<div style="position:absolute;left:311.30px;top:1177.60px;width:161.20px;height:25.10px;background:#2352a3;display:flex;align-items:center;justify-content:center;text-align:center;color:#fff;font:bold 16px/24.8px 'Liberation Sans', sans-serif;box-sizing:border-box;padding-top:3px;">220V</div>
<div style="position:absolute;left:474.50px;top:1095.70px;width:72.30px;height:26.10px;background:#2352a3;display:flex;align-items:center;justify-content:center;text-align:center;color:#fff;font:bold 16px/24.8px 'Liberation Sans', sans-serif;box-sizing:border-box;padding-top:3px;">Q</div>
<div style="position:absolute;left:474.50px;top:1123.80px;width:72.30px;height:24.80px;background:#2352a3;display:flex;align-items:center;justify-content:center;text-align:center;color:#fff;font:bold 16px/24.8px 'Liberation Sans', sans-serif;box-sizing:border-box;padding-top:3px;">US.gpm</div>
<div style="position:absolute;left:474.50px;top:1150.60px;width:72.30px;height:25.00px;background:#2352a3;display:flex;align-items:center;justify-content:center;text-align:center;color:#fff;font:bold 16px/24.8px 'Liberation Sans', sans-serif;box-sizing:border-box;padding-top:3px;">m³/h</div>
<div style="position:absolute;left:474.50px;top:1177.60px;width:72.30px;height:25.10px;background:#2352a3;display:flex;align-items:center;justify-content:center;text-align:center;color:#fff;font:bold 16px/24.8px 'Liberation Sans', sans-serif;box-sizing:border-box;padding-top:3px;">l/min</div>
<div style="position:absolute;left:548.80px;top:1095.70px;width:435.00px;height:26.10px;background:#2352a3;display:flex;align-items:center;justify-content:center;text-align:center;color:#fff;font:bold 16px/24.8px 'Liberation Sans', sans-serif;box-sizing:border-box;padding-top:3px;">Capacity</div>
<div style="position:absolute;left:548.80px;top:1123.80px;width:52.50px;height:24.80px;background:#e9f0fa;display:flex;align-items:center;justify-content:center;text-align:center;color:#262626;font:15.4px/20px 'Liberation Sans', sans-serif;box-sizing:border-box;padding-top:2px;">0</div>
<div style="position:absolute;left:603.30px;top:1123.80px;width:52.50px;height:24.80px;background:#e9f0fa;display:flex;align-items:center;justify-content:center;text-align:center;color:#262626;font:15.4px/20px 'Liberation Sans', sans-serif;box-sizing:border-box;padding-top:2px;">4.4</div>
<div style="position:absolute;left:657.80px;top:1123.80px;width:52.50px;height:24.80px;background:#e9f0fa;display:flex;align-items:center;justify-content:center;text-align:center;color:#262626;font:15.4px/20px 'Liberation Sans', sans-serif;box-sizing:border-box;padding-top:2px;">6.6</div>
<div style="position:absolute;left:712.30px;top:1123.80px;width:52.50px;height:24.80px;background:#e9f0fa;display:flex;align-items:center;justify-content:center;text-align:center;color:#262626;font:15.4px/20px 'Liberation Sans', sans-serif;box-sizing:border-box;padding-top:2px;">7.9</div>
<div style="position:absolute;left:766.80px;top:1123.80px;width:52.50px;height:24.80px;background:#e9f0fa;display:flex;align-items:center;justify-content:center;text-align:center;color:#262626;font:15.4px/20px 'Liberation Sans', sans-serif;box-sizing:border-box;padding-top:2px;">8.8</div>
<div style="position:absolute;left:821.30px;top:1123.80px;width:52.50px;height:24.80px;background:#e9f0fa;display:flex;align-items:center;justify-content:center;text-align:center;color:#262626;font:15.4px/20px 'Liberation Sans', sans-serif;box-sizing:border-box;padding-top:2px;">9.7</div>
<div style="position:absolute;left:875.80px;top:1123.80px;width:52.50px;height:24.80px;background:#e9f0fa;display:flex;align-items:center;justify-content:center;text-align:center;color:#262626;font:15.4px/20px 'Liberation Sans', sans-serif;box-sizing:border-box;padding-top:2px;">11</div>
<div style="position:absolute;left:930.30px;top:1123.80px;width:51.30px;height:24.80px;background:#e9f0fa;display:flex;align-items:center;justify-content:center;text-align:center;color:#262626;font:15.4px/20px 'Liberation Sans', sans-serif;box-sizing:border-box;padding-top:2px;">13.2</div>
<div style="position:absolute;left:548.80px;top:1150.60px;width:52.50px;height:25.00px;background:#fff;display:flex;align-items:center;justify-content:center;text-align:center;color:#262626;font:15.4px/20px 'Liberation Sans', sans-serif;box-sizing:border-box;padding-top:2px;">0</div>
<div style="position:absolute;left:603.30px;top:1150.60px;width:52.50px;height:25.00px;background:#fff;display:flex;align-items:center;justify-content:center;text-align:center;color:#262626;font:15.4px/20px 'Liberation Sans', sans-serif;box-sizing:border-box;padding-top:2px;">1</div>
<div style="position:absolute;left:657.80px;top:1150.60px;width:52.50px;height:25.00px;background:#fff;display:flex;align-items:center;justify-content:center;text-align:center;color:#262626;font:15.4px/20px 'Liberation Sans', sans-serif;box-sizing:border-box;padding-top:2px;">1.5</div>
<div style="position:absolute;left:712.30px;top:1150.60px;width:52.50px;height:25.00px;background:#fff;display:flex;align-items:center;justify-content:center;text-align:center;color:#262626;font:15.4px/20px 'Liberation Sans', sans-serif;box-sizing:border-box;padding-top:2px;">1.8</div>
<div style="position:absolute;left:766.80px;top:1150.60px;width:52.50px;height:25.00px;background:#fff;display:flex;align-items:center;justify-content:center;text-align:center;color:#262626;font:15.4px/20px 'Liberation Sans', sans-serif;box-sizing:border-box;padding-top:2px;">2</div>
<div style="position:absolute;left:821.30px;top:1150.60px;width:52.50px;height:25.00px;background:#fff;display:flex;align-items:center;justify-content:center;text-align:center;color:#262626;font:15.4px/20px 'Liberation Sans', sans-serif;box-sizing:border-box;padding-top:2px;">2.2</div>
<div style="position:absolute;left:875.80px;top:1150.60px;width:52.50px;height:25.00px;background:#fff;display:flex;align-items:center;justify-content:center;text-align:center;color:#262626;font:15.4px/20px 'Liberation Sans', sans-serif;box-sizing:border-box;padding-top:2px;">2.5</div>
<div style="position:absolute;left:930.30px;top:1150.60px;width:51.30px;height:25.00px;background:#fff;display:flex;align-items:center;justify-content:center;text-align:center;color:#262626;font:15.4px/20px 'Liberation Sans', sans-serif;box-sizing:border-box;padding-top:2px;">3</div>
<div style="position:absolute;left:548.80px;top:1177.60px;width:52.50px;height:25.10px;background:#e9f0fa;display:flex;align-items:center;justify-content:center;text-align:center;color:#262626;font:15.4px/20px 'Liberation Sans', sans-serif;box-sizing:border-box;padding-top:2px;">0</div>
<div style="position:absolute;left:603.30px;top:1177.60px;width:52.50px;height:25.10px;background:#e9f0fa;display:flex;align-items:center;justify-content:center;text-align:center;color:#262626;font:15.4px/20px 'Liberation Sans', sans-serif;box-sizing:border-box;padding-top:2px;">17</div>
<div style="position:absolute;left:657.80px;top:1177.60px;width:52.50px;height:25.10px;background:#e9f0fa;display:flex;align-items:center;justify-content:center;text-align:center;color:#262626;font:15.4px/20px 'Liberation Sans', sans-serif;box-sizing:border-box;padding-top:2px;">25</div>
<div style="position:absolute;left:712.30px;top:1177.60px;width:52.50px;height:25.10px;background:#e9f0fa;display:flex;align-items:center;justify-content:center;text-align:center;color:#262626;font:15.4px/20px 'Liberation Sans', sans-serif;box-sizing:border-box;padding-top:2px;">30</div>
<div style="position:absolute;left:766.80px;top:1177.60px;width:52.50px;height:25.10px;background:#e9f0fa;display:flex;align-items:center;justify-content:center;text-align:center;color:#262626;font:15.4px/20px 'Liberation Sans', sans-serif;box-sizing:border-box;padding-top:2px;">33</div>
<div style="position:absolute;left:821.30px;top:1177.60px;width:52.50px;height:25.10px;background:#e9f0fa;display:flex;align-items:center;justify-content:center;text-align:center;color:#262626;font:15.4px/20px 'Liberation Sans', sans-serif;box-sizing:border-box;padding-top:2px;">36.7</div>
<div style="position:absolute;left:875.80px;top:1177.60px;width:52.50px;height:25.10px;background:#e9f0fa;display:flex;align-items:center;justify-content:center;text-align:center;color:#262626;font:15.4px/20px 'Liberation Sans', sans-serif;box-sizing:border-box;padding-top:2px;">42</div>
<div style="position:absolute;left:930.30px;top:1177.60px;width:51.30px;height:25.10px;background:#e9f0fa;display:flex;align-items:center;justify-content:center;text-align:center;color:#262626;font:15.4px/20px 'Liberation Sans', sans-serif;box-sizing:border-box;padding-top:2px;">50</div>
<div style="position:absolute;left:18.30px;top:1204.70px;width:127.70px;height:24.40px;background:#2352a3;display:flex;align-items:center;justify-content:center;text-align:center;color:#fff;font:bold 16px/24.8px 'Liberation Sans', sans-serif;box-sizing:border-box;padding-top:3px;"></div>
<div style="position:absolute;left:148.00px;top:1204.70px;width:52.50px;height:24.40px;background:#2352a3;display:flex;align-items:center;justify-content:center;text-align:center;color:#fff;font:bold 16px/24.8px 'Liberation Sans', sans-serif;box-sizing:border-box;padding-top:3px;">HP</div>
<div style="position:absolute;left:202.50px;top:1204.70px;width:52.50px;height:24.40px;background:#2352a3;display:flex;align-items:center;justify-content:center;text-align:center;color:#fff;font:bold 16px/24.8px 'Liberation Sans', sans-serif;box-sizing:border-box;padding-top:3px;">kW</div>
<div style="position:absolute;left:257.00px;top:1204.70px;width:52.30px;height:24.40px;background:#2352a3;display:flex;align-items:center;justify-content:center;text-align:center;color:#fff;font:bold 16px/24.8px 'Liberation Sans', sans-serif;box-sizing:border-box;padding-top:3px;">A</div>
<div style="position:absolute;left:311.30px;top:1204.70px;width:52.30px;height:24.40px;background:#2352a3;display:flex;align-items:center;justify-content:center;text-align:center;color:#fff;font:bold 16px/24.8px 'Liberation Sans', sans-serif;box-sizing:border-box;padding-top:3px;">A</div>
<div style="position:absolute;left:365.60px;top:1204.70px;width:52.00px;height:24.40px;background:#2352a3;display:flex;align-items:center;justify-content:center;text-align:center;color:#fff;font:bold 16px/24.8px 'Liberation Sans', sans-serif;box-sizing:border-box;padding-top:3px;">µF</div>
<div style="position:absolute;left:419.60px;top:1204.70px;width:52.90px;height:24.40px;background:#2352a3;display:flex;align-items:center;justify-content:center;text-align:center;color:#fff;font:bold 16px/24.8px 'Liberation Sans', sans-serif;box-sizing:border-box;padding-top:3px;">VC</div>
<div style="position:absolute;left:474.50px;top:1204.70px;width:509.30px;height:24.40px;background:#2352a3;display:flex;align-items:center;justify-content:center;text-align:center;color:#fff;font:bold 16px/24.8px 'Liberation Sans', sans-serif;box-sizing:border-box;padding-top:3px;">Total head in meters</div>
<div style="position:absolute;left:20.50px;top:1231.10px;width:125.50px;height:24.40px;background:#e9f0fa;display:flex;align-items:center;justify-content:center;text-align:center;color:#1d1d1d;font:bold 15.2px/20px 'Liberation Sans', sans-serif;box-sizing:border-box;padding-top:2px;">3SP2-08</div>
<div style="position:absolute;left:148.00px;top:1231.10px;width:52.50px;height:24.40px;background:#e9f0fa;display:flex;align-items:center;justify-content:center;text-align:center;color:#262626;font:15.4px/20px 'Liberation Sans', sans-serif;box-sizing:border-box;padding-top:2px;">0.33</div>
<div style="position:absolute;left:202.50px;top:1231.10px;width:52.50px;height:24.40px;background:#e9f0fa;display:flex;align-items:center;justify-content:center;text-align:center;color:#262626;font:15.4px/20px 'Liberation Sans', sans-serif;box-sizing:border-box;padding-top:2px;">0.25</div>
<div style="position:absolute;left:257.00px;top:1231.10px;width:52.30px;height:24.40px;background:#e9f0fa;display:flex;align-items:center;justify-content:center;text-align:center;color:#262626;font:15.4px/20px 'Liberation Sans', sans-serif;box-sizing:border-box;padding-top:2px;">-</div>
<div style="position:absolute;left:311.30px;top:1231.10px;width:52.30px;height:24.40px;background:#e9f0fa;display:flex;align-items:center;justify-content:center;text-align:center;color:#262626;font:15.4px/20px 'Liberation Sans', sans-serif;box-sizing:border-box;padding-top:2px;">2.5</div>
<div style="position:absolute;left:365.60px;top:1231.10px;width:52.00px;height:24.40px;background:#e9f0fa;display:flex;align-items:center;justify-content:center;text-align:center;color:#262626;font:15.4px/20px 'Liberation Sans', sans-serif;box-sizing:border-box;padding-top:2px;">10</div>
<div style="position:absolute;left:419.60px;top:1231.10px;width:52.90px;height:24.40px;background:#e9f0fa;display:flex;align-items:center;justify-content:center;text-align:center;color:#262626;font:15.4px/20px 'Liberation Sans', sans-serif;box-sizing:border-box;padding-top:2px;">450</div>
<div style="position:absolute;left:548.80px;top:1231.10px;width:52.50px;height:24.40px;background:#e9f0fa;display:flex;align-items:center;justify-content:center;text-align:center;color:#262626;font:15.4px/20px 'Liberation Sans', sans-serif;box-sizing:border-box;padding-top:2px;">28</div>
<div style="position:absolute;left:603.30px;top:1231.10px;width:52.50px;height:24.40px;background:#e9f0fa;display:flex;align-items:center;justify-content:center;text-align:center;color:#262626;font:15.4px/20px 'Liberation Sans', sans-serif;box-sizing:border-box;padding-top:2px;">26</div>
<div style="position:absolute;left:657.80px;top:1231.10px;width:52.50px;height:24.40px;background:#e9f0fa;display:flex;align-items:center;justify-content:center;text-align:center;color:#262626;font:15.4px/20px 'Liberation Sans', sans-serif;box-sizing:border-box;padding-top:2px;">25</div>
<div style="position:absolute;left:712.30px;top:1231.10px;width:52.50px;height:24.40px;background:#e9f0fa;display:flex;align-items:center;justify-content:center;text-align:center;color:#262626;font:15.4px/20px 'Liberation Sans', sans-serif;box-sizing:border-box;padding-top:2px;">24</div>
<div style="position:absolute;left:766.80px;top:1231.10px;width:52.50px;height:24.40px;background:#e9f0fa;display:flex;align-items:center;justify-content:center;text-align:center;color:#262626;font:15.4px/20px 'Liberation Sans', sans-serif;box-sizing:border-box;padding-top:2px;">22</div>
<div style="position:absolute;left:821.30px;top:1231.10px;width:52.50px;height:24.40px;background:#e9f0fa;display:flex;align-items:center;justify-content:center;text-align:center;color:#262626;font:15.4px/20px 'Liberation Sans', sans-serif;box-sizing:border-box;padding-top:2px;">20</div>
<div style="position:absolute;left:875.80px;top:1231.10px;width:52.50px;height:24.40px;background:#e9f0fa;display:flex;align-items:center;justify-content:center;text-align:center;color:#262626;font:15.4px/20px 'Liberation Sans', sans-serif;box-sizing:border-box;padding-top:2px;">17</div>
<div style="position:absolute;left:930.30px;top:1231.10px;width:51.30px;height:24.40px;background:#e9f0fa;display:flex;align-items:center;justify-content:center;text-align:center;color:#262626;font:15.4px/20px 'Liberation Sans', sans-serif;box-sizing:border-box;padding-top:2px;">11</div>
<div style="position:absolute;left:20.50px;top:1257.50px;width:125.50px;height:24.30px;background:#fff;display:flex;align-items:center;justify-content:center;text-align:center;color:#1d1d1d;font:bold 15.2px/20px 'Liberation Sans', sans-serif;box-sizing:border-box;padding-top:2px;">3SP2-11</div>
<div style="position:absolute;left:148.00px;top:1257.50px;width:52.50px;height:24.30px;background:#fff;display:flex;align-items:center;justify-content:center;text-align:center;color:#262626;font:15.4px/20px 'Liberation Sans', sans-serif;box-sizing:border-box;padding-top:2px;">0.5</div>
<div style="position:absolute;left:202.50px;top:1257.50px;width:52.50px;height:24.30px;background:#fff;display:flex;align-items:center;justify-content:center;text-align:center;color:#262626;font:15.4px/20px 'Liberation Sans', sans-serif;box-sizing:border-box;padding-top:2px;">0.37</div>
<div style="position:absolute;left:257.00px;top:1257.50px;width:52.30px;height:24.30px;background:#fff;display:flex;align-items:center;justify-content:center;text-align:center;color:#262626;font:15.4px/20px 'Liberation Sans', sans-serif;box-sizing:border-box;padding-top:2px;">1.8</div>
<div style="position:absolute;left:311.30px;top:1257.50px;width:52.30px;height:24.30px;background:#fff;display:flex;align-items:center;justify-content:center;text-align:center;color:#262626;font:15.4px/20px 'Liberation Sans', sans-serif;box-sizing:border-box;padding-top:2px;">3.3</div>
<div style="position:absolute;left:365.60px;top:1257.50px;width:52.00px;height:24.30px;background:#fff;display:flex;align-items:center;justify-content:center;text-align:center;color:#262626;font:15.4px/20px 'Liberation Sans', sans-serif;box-sizing:border-box;padding-top:2px;">12</div>
<div style="position:absolute;left:419.60px;top:1257.50px;width:52.90px;height:24.30px;background:#fff;display:flex;align-items:center;justify-content:center;text-align:center;color:#262626;font:15.4px/20px 'Liberation Sans', sans-serif;box-sizing:border-box;padding-top:2px;">450</div>
<div style="position:absolute;left:548.80px;top:1257.50px;width:52.50px;height:24.30px;background:#fff;display:flex;align-items:center;justify-content:center;text-align:center;color:#262626;font:15.4px/20px 'Liberation Sans', sans-serif;box-sizing:border-box;padding-top:2px;">39</div>
<div style="position:absolute;left:603.30px;top:1257.50px;width:52.50px;height:24.30px;background:#fff;display:flex;align-items:center;justify-content:center;text-align:center;color:#262626;font:15.4px/20px 'Liberation Sans', sans-serif;box-sizing:border-box;padding-top:2px;">36</div>
<div style="position:absolute;left:657.80px;top:1257.50px;width:52.50px;height:24.30px;background:#fff;display:flex;align-items:center;justify-content:center;text-align:center;color:#262626;font:15.4px/20px 'Liberation Sans', sans-serif;box-sizing:border-box;padding-top:2px;">34</div>
<div style="position:absolute;left:712.30px;top:1257.50px;width:52.50px;height:24.30px;background:#fff;display:flex;align-items:center;justify-content:center;text-align:center;color:#262626;font:15.4px/20px 'Liberation Sans', sans-serif;box-sizing:border-box;padding-top:2px;">32</div>
<div style="position:absolute;left:766.80px;top:1257.50px;width:52.50px;height:24.30px;background:#fff;display:flex;align-items:center;justify-content:center;text-align:center;color:#262626;font:15.4px/20px 'Liberation Sans', sans-serif;box-sizing:border-box;padding-top:2px;">30</div>
<div style="position:absolute;left:821.30px;top:1257.50px;width:52.50px;height:24.30px;background:#fff;display:flex;align-items:center;justify-content:center;text-align:center;color:#262626;font:15.4px/20px 'Liberation Sans', sans-serif;box-sizing:border-box;padding-top:2px;">29</div>
<div style="position:absolute;left:875.80px;top:1257.50px;width:52.50px;height:24.30px;background:#fff;display:flex;align-items:center;justify-content:center;text-align:center;color:#262626;font:15.4px/20px 'Liberation Sans', sans-serif;box-sizing:border-box;padding-top:2px;">24</div>
<div style="position:absolute;left:930.30px;top:1257.50px;width:51.30px;height:24.30px;background:#fff;display:flex;align-items:center;justify-content:center;text-align:center;color:#262626;font:15.4px/20px 'Liberation Sans', sans-serif;box-sizing:border-box;padding-top:2px;">15</div>
<div style="position:absolute;left:20.50px;top:1283.80px;width:125.50px;height:24.30px;background:#e9f0fa;display:flex;align-items:center;justify-content:center;text-align:center;color:#1d1d1d;font:bold 15.2px/20px 'Liberation Sans', sans-serif;box-sizing:border-box;padding-top:2px;">3SP2-17</div>
<div style="position:absolute;left:148.00px;top:1283.80px;width:52.50px;height:24.30px;background:#e9f0fa;display:flex;align-items:center;justify-content:center;text-align:center;color:#262626;font:15.4px/20px 'Liberation Sans', sans-serif;box-sizing:border-box;padding-top:2px;">0.75</div>
<div style="position:absolute;left:202.50px;top:1283.80px;width:52.50px;height:24.30px;background:#e9f0fa;display:flex;align-items:center;justify-content:center;text-align:center;color:#262626;font:15.4px/20px 'Liberation Sans', sans-serif;box-sizing:border-box;padding-top:2px;">0.55</div>
<div style="position:absolute;left:257.00px;top:1283.80px;width:52.30px;height:24.30px;background:#e9f0fa;display:flex;align-items:center;justify-content:center;text-align:center;color:#262626;font:15.4px/20px 'Liberation Sans', sans-serif;box-sizing:border-box;padding-top:2px;">2.1</div>
<div style="position:absolute;left:311.30px;top:1283.80px;width:52.30px;height:24.30px;background:#e9f0fa;display:flex;align-items:center;justify-content:center;text-align:center;color:#262626;font:15.4px/20px 'Liberation Sans', sans-serif;box-sizing:border-box;padding-top:2px;">4.4</div>
<div style="position:absolute;left:365.60px;top:1283.80px;width:52.00px;height:24.30px;background:#e9f0fa;display:flex;align-items:center;justify-content:center;text-align:center;color:#262626;font:15.4px/20px 'Liberation Sans', sans-serif;box-sizing:border-box;padding-top:2px;">15</div>
<div style="position:absolute;left:419.60px;top:1283.80px;width:52.90px;height:24.30px;background:#e9f0fa;display:flex;align-items:center;justify-content:center;text-align:center;color:#262626;font:15.4px/20px 'Liberation Sans', sans-serif;box-sizing:border-box;padding-top:2px;">450</div>
<div style="position:absolute;left:548.80px;top:1283.80px;width:52.50px;height:24.30px;background:#e9f0fa;display:flex;align-items:center;justify-content:center;text-align:center;color:#262626;font:15.4px/20px 'Liberation Sans', sans-serif;box-sizing:border-box;padding-top:2px;">60</div>
<div style="position:absolute;left:603.30px;top:1283.80px;width:52.50px;height:24.30px;background:#e9f0fa;display:flex;align-items:center;justify-content:center;text-align:center;color:#262626;font:15.4px/20px 'Liberation Sans', sans-serif;box-sizing:border-box;padding-top:2px;">56</div>
<div style="position:absolute;left:657.80px;top:1283.80px;width:52.50px;height:24.30px;background:#e9f0fa;display:flex;align-items:center;justify-content:center;text-align:center;color:#262626;font:15.4px/20px 'Liberation Sans', sans-serif;box-sizing:border-box;padding-top:2px;">52</div>
<div style="position:absolute;left:712.30px;top:1283.80px;width:52.50px;height:24.30px;background:#e9f0fa;display:flex;align-items:center;justify-content:center;text-align:center;color:#262626;font:15.4px/20px 'Liberation Sans', sans-serif;box-sizing:border-box;padding-top:2px;">49</div>
<div style="position:absolute;left:766.80px;top:1283.80px;width:52.50px;height:24.30px;background:#e9f0fa;display:flex;align-items:center;justify-content:center;text-align:center;color:#262626;font:15.4px/20px 'Liberation Sans', sans-serif;box-sizing:border-box;padding-top:2px;">46</div>
<div style="position:absolute;left:821.30px;top:1283.80px;width:52.50px;height:24.30px;background:#e9f0fa;display:flex;align-items:center;justify-content:center;text-align:center;color:#262626;font:15.4px/20px 'Liberation Sans', sans-serif;box-sizing:border-box;padding-top:2px;">43</div>
<div style="position:absolute;left:875.80px;top:1283.80px;width:52.50px;height:24.30px;background:#e9f0fa;display:flex;align-items:center;justify-content:center;text-align:center;color:#262626;font:15.4px/20px 'Liberation Sans', sans-serif;box-sizing:border-box;padding-top:2px;">37</div>
<div style="position:absolute;left:930.30px;top:1283.80px;width:51.30px;height:24.30px;background:#e9f0fa;display:flex;align-items:center;justify-content:center;text-align:center;color:#262626;font:15.4px/20px 'Liberation Sans', sans-serif;box-sizing:border-box;padding-top:2px;">23</div>
<div style="position:absolute;left:20.50px;top:1310.10px;width:125.50px;height:24.30px;background:#fff;display:flex;align-items:center;justify-content:center;text-align:center;color:#1d1d1d;font:bold 15.2px/20px 'Liberation Sans', sans-serif;box-sizing:border-box;padding-top:2px;">3SP2-24</div>
<div style="position:absolute;left:148.00px;top:1310.10px;width:52.50px;height:24.30px;background:#fff;display:flex;align-items:center;justify-content:center;text-align:center;color:#262626;font:15.4px/20px 'Liberation Sans', sans-serif;box-sizing:border-box;padding-top:2px;">1.1</div>
<div style="position:absolute;left:202.50px;top:1310.10px;width:52.50px;height:24.30px;background:#fff;display:flex;align-items:center;justify-content:center;text-align:center;color:#262626;font:15.4px/20px 'Liberation Sans', sans-serif;box-sizing:border-box;padding-top:2px;">0.75</div>
<div style="position:absolute;left:257.00px;top:1310.10px;width:52.30px;height:24.30px;background:#fff;display:flex;align-items:center;justify-content:center;text-align:center;color:#262626;font:15.4px/20px 'Liberation Sans', sans-serif;box-sizing:border-box;padding-top:2px;">2.5</div>
<div style="position:absolute;left:311.30px;top:1310.10px;width:52.30px;height:24.30px;background:#fff;display:flex;align-items:center;justify-content:center;text-align:center;color:#262626;font:15.4px/20px 'Liberation Sans', sans-serif;box-sizing:border-box;padding-top:2px;">5.7</div>
<div style="position:absolute;left:365.60px;top:1310.10px;width:52.00px;height:24.30px;background:#fff;display:flex;align-items:center;justify-content:center;text-align:center;color:#262626;font:15.4px/20px 'Liberation Sans', sans-serif;box-sizing:border-box;padding-top:2px;">20</div>
<div style="position:absolute;left:419.60px;top:1310.10px;width:52.90px;height:24.30px;background:#fff;display:flex;align-items:center;justify-content:center;text-align:center;color:#262626;font:15.4px/20px 'Liberation Sans', sans-serif;box-sizing:border-box;padding-top:2px;">450</div>
<div style="position:absolute;left:548.80px;top:1310.10px;width:52.50px;height:24.30px;background:#fff;display:flex;align-items:center;justify-content:center;text-align:center;color:#262626;font:15.4px/20px 'Liberation Sans', sans-serif;box-sizing:border-box;padding-top:2px;">85</div>
<div style="position:absolute;left:603.30px;top:1310.10px;width:52.50px;height:24.30px;background:#fff;display:flex;align-items:center;justify-content:center;text-align:center;color:#262626;font:15.4px/20px 'Liberation Sans', sans-serif;box-sizing:border-box;padding-top:2px;">79</div>
<div style="position:absolute;left:657.80px;top:1310.10px;width:52.50px;height:24.30px;background:#fff;display:flex;align-items:center;justify-content:center;text-align:center;color:#262626;font:15.4px/20px 'Liberation Sans', sans-serif;box-sizing:border-box;padding-top:2px;">74</div>
<div style="position:absolute;left:712.30px;top:1310.10px;width:52.50px;height:24.30px;background:#fff;display:flex;align-items:center;justify-content:center;text-align:center;color:#262626;font:15.4px/20px 'Liberation Sans', sans-serif;box-sizing:border-box;padding-top:2px;">69</div>
<div style="position:absolute;left:766.80px;top:1310.10px;width:52.50px;height:24.30px;background:#fff;display:flex;align-items:center;justify-content:center;text-align:center;color:#262626;font:15.4px/20px 'Liberation Sans', sans-serif;box-sizing:border-box;padding-top:2px;">65</div>
<div style="position:absolute;left:821.30px;top:1310.10px;width:52.50px;height:24.30px;background:#fff;display:flex;align-items:center;justify-content:center;text-align:center;color:#262626;font:15.4px/20px 'Liberation Sans', sans-serif;box-sizing:border-box;padding-top:2px;">61</div>
<div style="position:absolute;left:875.80px;top:1310.10px;width:52.50px;height:24.30px;background:#fff;display:flex;align-items:center;justify-content:center;text-align:center;color:#262626;font:15.4px/20px 'Liberation Sans', sans-serif;box-sizing:border-box;padding-top:2px;">52</div>
<div style="position:absolute;left:930.30px;top:1310.10px;width:51.30px;height:24.30px;background:#fff;display:flex;align-items:center;justify-content:center;text-align:center;color:#262626;font:15.4px/20px 'Liberation Sans', sans-serif;box-sizing:border-box;padding-top:2px;">33</div>
<div style="position:absolute;left:20.50px;top:1336.40px;width:125.50px;height:25.20px;background:#e9f0fa;display:flex;align-items:center;justify-content:center;text-align:center;color:#1d1d1d;font:bold 15.2px/20px 'Liberation Sans', sans-serif;box-sizing:border-box;padding-top:2px;">3SP2-32</div>
<div style="position:absolute;left:148.00px;top:1336.40px;width:52.50px;height:25.20px;background:#e9f0fa;display:flex;align-items:center;justify-content:center;text-align:center;color:#262626;font:15.4px/20px 'Liberation Sans', sans-serif;box-sizing:border-box;padding-top:2px;">1.5</div>
<div style="position:absolute;left:202.50px;top:1336.40px;width:52.50px;height:25.20px;background:#e9f0fa;display:flex;align-items:center;justify-content:center;text-align:center;color:#262626;font:15.4px/20px 'Liberation Sans', sans-serif;box-sizing:border-box;padding-top:2px;">1.1</div>
<div style="position:absolute;left:257.00px;top:1336.40px;width:52.30px;height:25.20px;background:#e9f0fa;display:flex;align-items:center;justify-content:center;text-align:center;color:#262626;font:15.4px/20px 'Liberation Sans', sans-serif;box-sizing:border-box;padding-top:2px;">3.5</div>
<div style="position:absolute;left:311.30px;top:1336.40px;width:52.30px;height:25.20px;background:#e9f0fa;display:flex;align-items:center;justify-content:center;text-align:center;color:#262626;font:15.4px/20px 'Liberation Sans', sans-serif;box-sizing:border-box;padding-top:2px;">-</div>
<div style="position:absolute;left:365.60px;top:1336.40px;width:52.00px;height:25.20px;background:#e9f0fa;display:flex;align-items:center;justify-content:center;text-align:center;color:#262626;font:15.4px/20px 'Liberation Sans', sans-serif;box-sizing:border-box;padding-top:2px;">-</div>
<div style="position:absolute;left:419.60px;top:1336.40px;width:52.90px;height:25.20px;background:#e9f0fa;display:flex;align-items:center;justify-content:center;text-align:center;color:#262626;font:15.4px/20px 'Liberation Sans', sans-serif;box-sizing:border-box;padding-top:2px;">-</div>
<div style="position:absolute;left:548.80px;top:1336.40px;width:52.50px;height:25.20px;background:#e9f0fa;display:flex;align-items:center;justify-content:center;text-align:center;color:#262626;font:15.4px/20px 'Liberation Sans', sans-serif;box-sizing:border-box;padding-top:2px;">106</div>
<div style="position:absolute;left:603.30px;top:1336.40px;width:52.50px;height:25.20px;background:#e9f0fa;display:flex;align-items:center;justify-content:center;text-align:center;color:#262626;font:15.4px/20px 'Liberation Sans', sans-serif;box-sizing:border-box;padding-top:2px;">97</div>
<div style="position:absolute;left:657.80px;top:1336.40px;width:52.50px;height:25.20px;background:#e9f0fa;display:flex;align-items:center;justify-content:center;text-align:center;color:#262626;font:15.4px/20px 'Liberation Sans', sans-serif;box-sizing:border-box;padding-top:2px;">92</div>
<div style="position:absolute;left:712.30px;top:1336.40px;width:52.50px;height:25.20px;background:#e9f0fa;display:flex;align-items:center;justify-content:center;text-align:center;color:#262626;font:15.4px/20px 'Liberation Sans', sans-serif;box-sizing:border-box;padding-top:2px;">87</div>
<div style="position:absolute;left:766.80px;top:1336.40px;width:52.50px;height:25.20px;background:#e9f0fa;display:flex;align-items:center;justify-content:center;text-align:center;color:#262626;font:15.4px/20px 'Liberation Sans', sans-serif;box-sizing:border-box;padding-top:2px;">83</div>
<div style="position:absolute;left:821.30px;top:1336.40px;width:52.50px;height:25.20px;background:#e9f0fa;display:flex;align-items:center;justify-content:center;text-align:center;color:#262626;font:15.4px/20px 'Liberation Sans', sans-serif;box-sizing:border-box;padding-top:2px;">77</div>
<div style="position:absolute;left:875.80px;top:1336.40px;width:52.50px;height:25.20px;background:#e9f0fa;display:flex;align-items:center;justify-content:center;text-align:center;color:#262626;font:15.4px/20px 'Liberation Sans', sans-serif;box-sizing:border-box;padding-top:2px;">65</div>
<div style="position:absolute;left:930.30px;top:1336.40px;width:51.30px;height:25.20px;background:#e9f0fa;display:flex;align-items:center;justify-content:center;text-align:center;color:#262626;font:15.4px/20px 'Liberation Sans', sans-serif;box-sizing:border-box;padding-top:2px;">40</div>
<div style="position:absolute;left:474.50px;top:1231.10px;width:72.30px;height:130.50px;background:#e9f0fa;display:flex;align-items:center;justify-content:center;text-align:center;color:#1d1d1d;font:bold 15px/19px 'Liberation Sans', sans-serif;">H<br>m</div>
</body></html>
